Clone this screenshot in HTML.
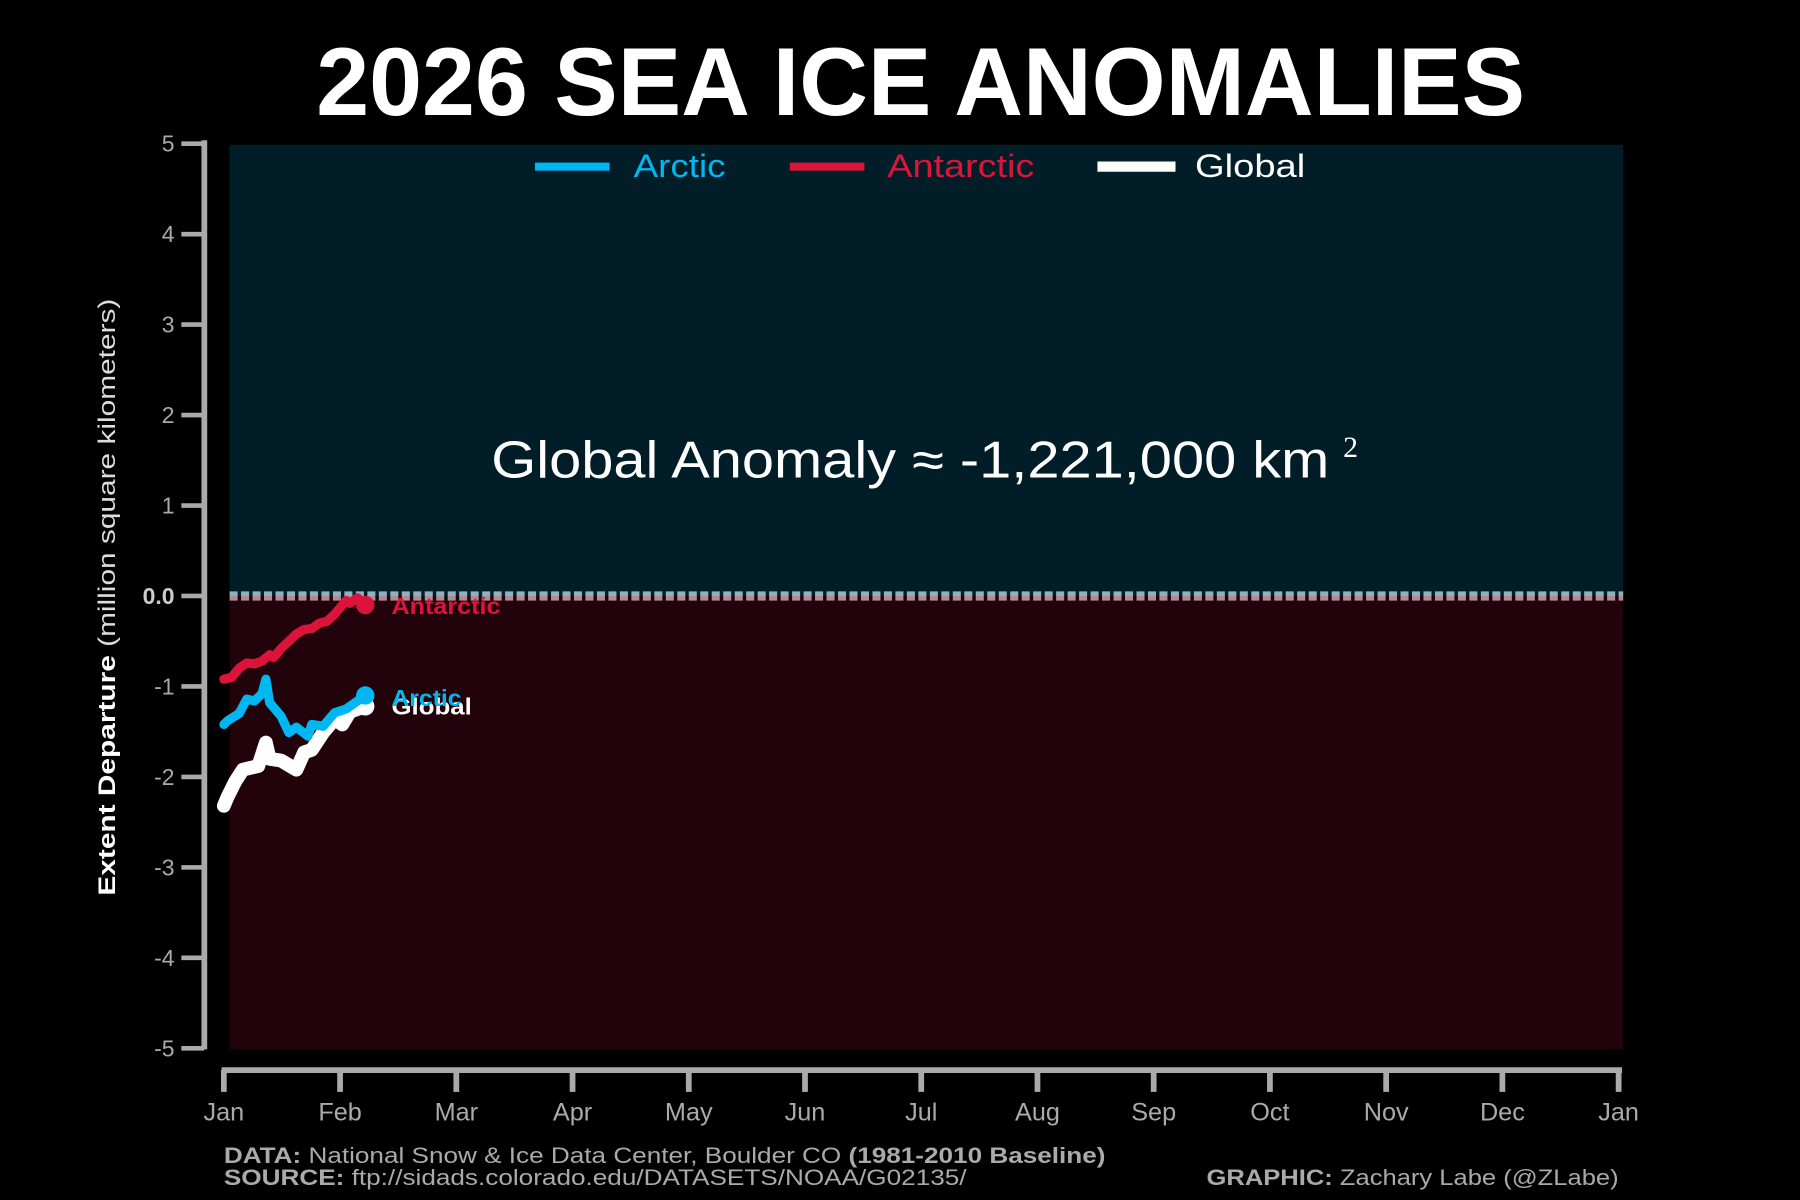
<!DOCTYPE html>
<html><head><meta charset="utf-8"><style>
html,body{margin:0;padding:0;background:#000;}
svg{display:block;font-family:"Liberation Sans",sans-serif;}
</style></head><body>
<svg width="1800" height="1200" viewBox="0 0 1568 1045">
<rect x="0" y="0" width="1568" height="1045" fill="#000"/>
<text x="802" y="100" text-anchor="middle" fill="#fff" font-weight="bold" font-size="84" textLength="1053" lengthAdjust="spacingAndGlyphs">2026 SEA ICE ANOMALIES</text>
<rect x="200" y="126" width="1214" height="393" fill="#011e28"/>
<rect x="200" y="519" width="1214" height="395" fill="#22030b"/>
<line x1="200" y1="517" x2="1414" y2="517" stroke="#8fb0bd" stroke-width="4" stroke-dasharray="7,3"/>
<line x1="200" y1="521" x2="1414" y2="521" stroke="#b08a95" stroke-width="4" stroke-dasharray="7,3"/>
<g id="yaxis"></g>
<g id="xaxis"></g>
<text transform="translate(100,520) rotate(-90)" text-anchor="middle" fill="#fff" font-size="21" textLength="520" lengthAdjust="spacingAndGlyphs"><tspan font-weight="bold">Extent Departure</tspan><tspan fill="#ddd"> (million square kilometers)</tspan></text>
<g>
<line x1="466" y1="145" x2="531" y2="145" stroke="#00b7f1" stroke-width="7"/>
<text x="552" y="154" fill="#00b7f1" font-size="28" textLength="80" lengthAdjust="spacingAndGlyphs">Arctic</text>
<line x1="688" y1="145" x2="753" y2="145" stroke="#dc143c" stroke-width="7"/>
<text x="773" y="154" fill="#dc143c" font-size="28" textLength="128" lengthAdjust="spacingAndGlyphs">Antarctic</text>
<line x1="956" y1="145" x2="1024" y2="145" stroke="#fff" stroke-width="9"/>
<text x="1041" y="154" fill="#fff" font-size="28" textLength="96" lengthAdjust="spacingAndGlyphs">Global</text>
</g>
<text x="428" y="416" fill="#fff" font-size="45" textLength="730" lengthAdjust="spacingAndGlyphs">Global Anomaly ≈ -1,221,000 km</text>
<text x="1170" y="398" fill="#fff" font-size="26" font-family="Liberation Serif">2</text>
<g id="series"></g>
<text x="195" y="1013" fill="#aaa" font-size="19" textLength="768" lengthAdjust="spacingAndGlyphs"><tspan font-weight="bold">DATA:</tspan> National Snow &amp; Ice Data Center, Boulder CO <tspan font-weight="bold">(1981-2010 Baseline)</tspan></text>
<text x="195" y="1032" fill="#aaa" font-size="19" textLength="647" lengthAdjust="spacingAndGlyphs"><tspan font-weight="bold">SOURCE:</tspan> ftp://sidads.colorado.edu/DATASETS/NOAA/G02135/</text>
<text x="1051" y="1032" fill="#aaa" font-size="19" textLength="359" lengthAdjust="spacingAndGlyphs"><tspan font-weight="bold">GRAPHIC:</tspan> Zachary Labe (@ZLabe)</text>
</svg>
<script>
const yTicks=[5,4,3,2,1,0,-1,-2,-3,-4,-5];
const yTickLabels=["5","4","3","2","1","0.0","-1","-2","-3","-4","-5"];
const months=["Jan","Feb","Mar","Apr","May","Jun","Jul","Aug","Sep","Oct","Nov","Dec","Jan"];
const antarcticDays=[0,2,4,6,8,10,12,13,15,17,19,21,23,25,27,29,31,32,33,35,37];
const antarcticValues=[-0.92,-0.9,-0.8,-0.74,-0.75,-0.72,-0.65,-0.68,-0.58,-0.5,-0.42,-0.37,-0.36,-0.3,-0.28,-0.2,-0.1,-0.05,-0.08,-0.02,-0.1];
const arcticDays=[0,1,4,6,8,10,11,12,15,17,19,22,23,26,29,32,35,37];
const arcticValues=[-1.42,-1.38,-1.3,-1.14,-1.16,-1.08,-0.92,-1.18,-1.33,-1.51,-1.45,-1.55,-1.42,-1.44,-1.29,-1.25,-1.16,-1.1];
const globalDays=[0,1,3,5,7,9,11,12,15,17,19,21,23,26,29,31,33,35,37];
const globalValues=[-2.32,-2.22,-2.05,-1.92,-1.9,-1.88,-1.62,-1.8,-1.82,-1.87,-1.92,-1.73,-1.7,-1.51,-1.36,-1.42,-1.28,-1.25,-1.22];
const NS="http://www.w3.org/2000/svg";
const xS=d=>195+d*(1410-195)/365;
const xM=i=>195+i*(1410-195)/12;
const yS=v=>519-v*78.8;
function mk(tag,attrs,parent){const e=document.createElementNS(NS,tag);for(const k in attrs)e.setAttribute(k,attrs[k]);parent.appendChild(e);return e;}
const ya=document.getElementById('yaxis');
const yl=mk('line',{x1:178,y1:122,x2:178,y2:914,stroke:'#aaa','stroke-width':5},ya);


yTicks.forEach((t,i)=>{
 const tk=mk('line',{x1:158,x2:178,y1:yS(t),y2:yS(t),stroke:'#aaa','stroke-width':4},ya);
 
 
 const tx=mk('text',{x:152,y:yS(t)+7,'text-anchor':'end',fill:t===0?'#ccc':'#aaa','font-size':20,'font-weight':t===0?'bold':'normal'},ya);
 tx.textContent=yTickLabels[i];
 
 
});
const xa=document.getElementById('xaxis');
const xl=mk('line',{x1:193,y1:932,x2:1413,y2:932,stroke:'#aaa','stroke-width':5},xa);


months.forEach((m,i)=>{
 const x=xM(i);
 const tk=mk('line',{x1:x,x2:x,y1:932,y2:951,stroke:'#aaa','stroke-width':5},xa);
 
 
 const tx=mk('text',{x:x,y:976,'text-anchor':'middle',fill:'#aaa','font-size':22},xa);
 tx.textContent=m;
 
 
});
const sg=document.getElementById('series');
function series(days,vals,color,w,name,label,dy,lw){
 const d=days.map((t,i)=>(i?'L':'M')+xS(t).toFixed(1)+','+yS(vals[i]).toFixed(1)).join(' ');
 const p=mk('path',{d:d,fill:'none',stroke:color,'stroke-width':w,'stroke-linejoin':'round','stroke-linecap':'round'},sg);
 
 
 const lx=xS(days[days.length-1]),ly=yS(vals[vals.length-1]);
 const c=mk('circle',{cx:lx,cy:ly,r:8,fill:color},sg);
 
 
 const t=mk('text',{x:341,y:ly+dy,fill:color,'font-size':20,'font-weight':'bold',textLength:lw,lengthAdjust:'spacingAndGlyphs'},sg);
 t.textContent=label;
 
 
}
series(globalDays,globalValues,'#fff',12,'global','Global',7,70);
series(arcticDays,arcticValues,'#00b7f1',8,'arctic','Arctic',9,61);
series(antarcticDays,antarcticValues,'#dc143c',8,'antarctic','Antarctic',8,95);
</script>
</body></html>
